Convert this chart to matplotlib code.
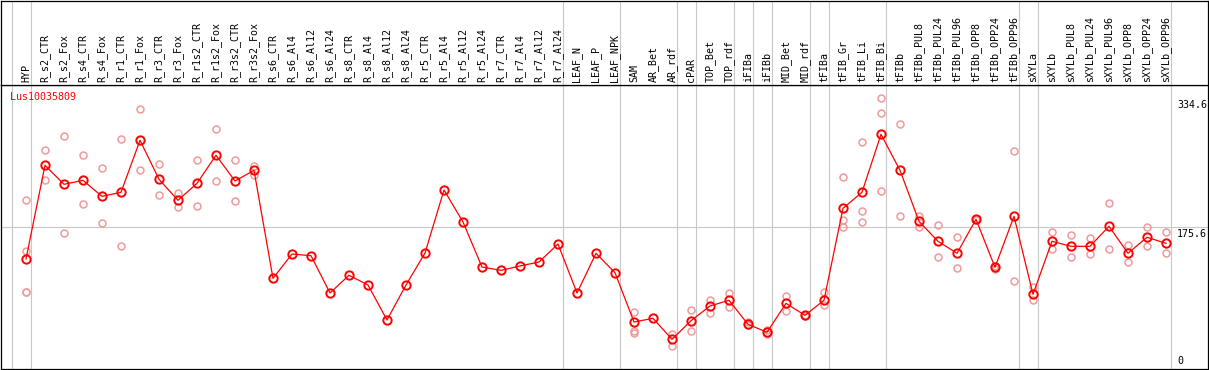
import matplotlib
matplotlib.use("Agg")
import matplotlib.pyplot as plt

# sample names, in plot order
samples = [
    "HYP", "R_s2_CTR", "R_s2_Fox", "R_s4_CTR", "R_s4_Fox", "R_r1_CTR", "R_r1_Fox",
    "R_r3_CTR", "R_r3_Fox", "R_r1s2_CTR", "R_r1s2_Fox", "R_r3s2_CTR", "R_r3s2_Fox",
    "R_s6_CTR", "R_s6_Al4", "R_s6_Al12", "R_s6_Al24", "R_s8_CTR", "R_s8_Al4",
    "R_s8_Al12", "R_s8_Al24", "R_r5_CTR", "R_r5_Al4", "R_r5_Al12", "R_r5_Al24",
    "R_r7_CTR", "R_r7_Al4", "R_r7_Al12", "R_r7_Al24", "LEAF_N", "LEAF_P", "LEAF_NPK",
    "SAM", "AR_Bet", "AR_rdf", "cPAR", "TOP_Bet", "TOP_rdf", "iFIBa", "iFIBb",
    "MID_Bet", "MID_rdf", "tFIBa", "tFIB_Gr", "tFIB_Li", "tFIB_Bi", "tFIBb",
    "tFIBb_PUL8", "tFIBb_PUL24", "tFIBb_PUL96", "tFIBb_OPP8", "tFIBb_OPP24",
    "tFIBb_OPP96", "sXYLa", "sXYLb", "sXYLb_PUL8", "sXYLb_PUL24", "sXYLb_PUL96",
    "sXYLb_OPP8", "sXYLb_OPP24", "sXYLb_OPP96",
]

# number of samples in each tissue group (separated by grey lines)
group_sizes = [1, 28, 3, 3, 1, 2, 1, 1, 2, 1, 3, 7, 1, 7]

# mean expression per sample
means = [
    136, 251.9, 228.4, 233.3, 213.5, 218.5, 282.8, 234.6, 208.6, 229.6, 264.3, 232.5, 245.7,
    112.1, 142.2, 140.1, 94, 115.9, 103.9, 60.6, 103.9, 143.4, 221.4, 181.8, 126.1,
    122, 127.4, 132.3, 154.6, 94, 143, 119.1,
    58.1, 62.7, 36.7, 59.7, 77.9, 85, 55.3, 45.4, 81.2, 66.4,
    85, 198.7, 218.5, 290.2, 245.7, 182.6, 157.9, 143.1, 185.1, 125.8, 188.8,
    92.4, 157.9, 151.7, 151.7, 176.5, 143.1, 162.9, 155.4,
]

# individual replicates per sample
replicates = [
    [208.6, 146, 95, 95], [270.4, 233.3], [288, 167.8], [264.6, 203.6], [248.2, 180.1],
    [284, 151.7], [321.1, 245.7], [253.1, 214.8], [217.3, 200], [258, 201.2],
    [296.4, 232.1], [258, 207.4], [251, 239.9],
    [], [], [], [], [], [], [], [], [], [], [], [], [], [], [], [], [], [], [],
    [70.9, 47, 44.1], [], [43.7, 28.8], [73, 46.6], [85.3, 69.6], [94, 76.3],
    [58.5, 54.4], [48.2, 42.9], [90.6, 71.7], [67, 66],
    [95.2, 79.1], [237, 184.2, 175.2], [280.3, 195, 181.4], [334.6, 316.2, 219.7],
    [302.6, 188.8], [188.8, 176], [178.1, 138.1], [163.2, 124.5], [186, 184],
    [127.8, 123.3], [269.2, 108.4],
    [101, 85.3], [169, 148], [165.3, 138.9], [161.6, 141.8], [204.9, 148],
    [153.3, 131.9], [175.2, 151.7], [169, 143.1],
]

gene = "Lus10035809"
y_max = 351.2
tick_values = [334.6, 175.6, 0]

W, H = 1209, 370
header_px = 85
mono = "DejaVu Sans Mono"
fs = 7.2
mean_color = "#ff0000"
rep_color = "#ef9a9a"
grid_color = "#c8c8c8"

fig = plt.figure(figsize=(W / 100, H / 100), dpi=100)

# x data limits so that sample i sits at pixel 26 + 19*i
x_left = (1 - 26) / 19
x_right = (1208 - 26) / 19

ax = fig.add_axes([1 / W, 1 / H, 1207 / W, (H - 1 - header_px) / H])
hdr = fig.add_axes([1 / W, (H - header_px) / H, 1207 / W, (header_px - 0.5) / H])

for a in (ax, hdr):
    a.set_xlim(x_left, x_right)
    a.set_xticks([])
    a.set_yticks([])
    for s in a.spines.values():
        s.set_color("black")
        s.set_linewidth(0.9)
ax.set_ylim(0, y_max)
hdr.set_ylim(0, 1)

# group separators
bounds = [-0.75]
end = -1
for g in group_sizes:
    end += g
    bounds.append(end + 0.25)
for b in bounds:
    ax.axvline(b, color=grid_color, lw=0.8, zorder=0)
    hdr.axvline(b, color=grid_color, lw=0.8, zorder=0)
ax.axhline(y_max / 2, color=grid_color, lw=0.8, zorder=0)

x = list(range(len(samples)))
for i, reps in enumerate(replicates):
    if reps:
        ax.plot([i] * len(reps), reps, linestyle="none", marker="o", ms=5,
                mfc="none", mec=rep_color, mew=1.1, zorder=2)
ax.plot(x, means, color=mean_color, lw=0.9, marker="o", ms=6, mfc="none",
        mec=mean_color, mew=1.4, zorder=3)

for i, name in enumerate(samples):
    hdr.text(i, 0.03, name, rotation=90, ha="center", va="bottom",
             fontsize=fs, family=mono, color="black")

ax.text(9 / 1207, 0.975, gene, transform=ax.transAxes, ha="left", va="top",
        fontsize=fs, family=mono, color=mean_color)

xt = (1177 - 1) / 1207
for v in tick_values:
    if v == 0:
        ax.text(xt, 4, "0", transform=ax.get_yaxis_transform(), ha="left",
                va="bottom", fontsize=fs, family=mono, clip_on=False)
    else:
        ax.text(xt, v - 2, f"{v}", transform=ax.get_yaxis_transform(), ha="left",
                va="top", fontsize=fs, family=mono, clip_on=False)

fig.savefig("out.png", dpi=100)
